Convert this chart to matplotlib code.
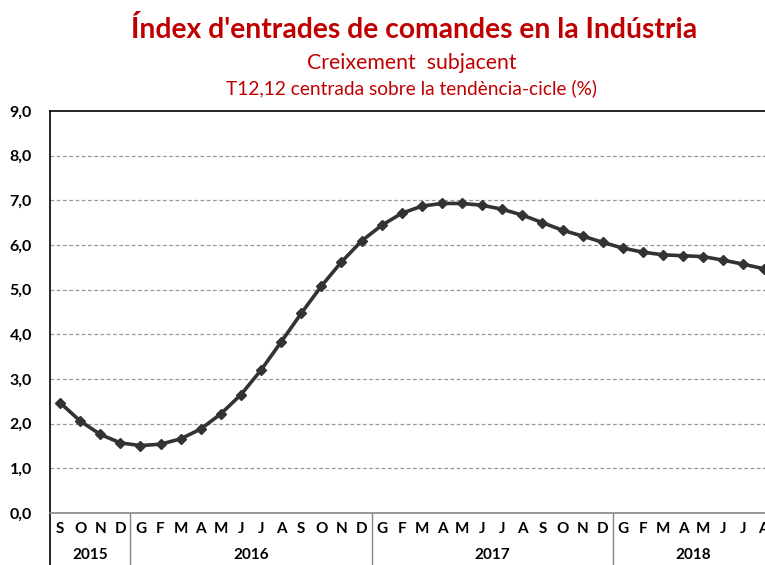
import matplotlib
matplotlib.use("Agg")
import matplotlib.pyplot as plt
import matplotlib.transforms as mtransforms

# ---- data ----
months = ["S", "O", "N", "D",
          "G", "F", "M", "A", "M", "J", "J", "A", "S", "O", "N", "D",
          "G", "F", "M", "A", "M", "J", "J", "A", "S", "O", "N", "D",
          "G", "F", "M", "A", "M", "J", "J", "A"]
years = ["2015", "2016", "2017", "2018"]
year_counts = [4, 12, 12, 8]
values = [2.47, 2.06, 1.76, 1.57,
          1.51, 1.54, 1.66, 1.88, 2.22, 2.65, 3.20, 3.83, 4.47, 5.08, 5.62, 6.09,
          6.44, 6.71, 6.87, 6.93, 6.93, 6.89, 6.80, 6.67, 6.50, 6.33, 6.20, 6.06,
          5.93, 5.84, 5.78, 5.76, 5.74, 5.66, 5.57, 5.47]
yticks = [0, 1, 2, 3, 4, 5, 6, 7, 8, 9]

title = "Índex d'entrades de comandes en la Indústria"
subtitle1 = "Creixement  subjacent"
subtitle2 = "T12,12 centrada sobre la tendència-cicle (%)"

plt.rcParams['font.family'] = ['Lato', 'DejaVu Sans']
red = "#C00000"

W, H = 765, 565
fig = plt.figure(figsize=(W / 100, H / 100), dpi=100)
left_px, bottom_px, top_px = 50, 513, 111
n = len(months)
step = 20.1
ax = fig.add_axes([left_px / W, 1 - bottom_px / H, n * step / W, (bottom_px - top_px) / H])

x = list(range(n))
ax.plot(x, values, color="#333333", lw=2.6, marker="D", ms=5, mfc="#333333", mec="#333333",
        zorder=3, clip_on=False)

ax.set_xlim(-0.5, n - 0.5)
ax.set_ylim(0, 9)
ax.set_yticks(yticks)
ax.set_yticklabels([f"{v:.1f}".replace(".", ",") for v in yticks], fontsize=11.5, fontweight="bold")
ax.tick_params(axis="y", length=0, pad=13)
ax.set_xticks([])
for v in yticks[1:-1]:
    ax.axhline(v, color="#999999", lw=0.9, ls=(0, (3, 2)), zorder=1)

ax.spines["right"].set_visible(False)
ax.spines["top"].set_color("black")
ax.spines["top"].set_linewidth(1.2)
ax.spines["left"].set_color("black")
ax.spines["left"].set_linewidth(1.2)
ax.spines["bottom"].set_color("#888888")
ax.spines["bottom"].set_linewidth(1.2)

trans = mtransforms.blended_transform_factory(ax.transData, ax.transAxes)
ah = (bottom_px - top_px)
# month labels
for i, m in enumerate(months):
    ax.text(i, -16 / ah, m, transform=trans, ha="center", va="center",
            fontsize=11, fontweight="bold", color="black")
# year labels and separators
start = 0
ax.plot([-0.5, -0.5], [0, -60 / ah], transform=trans, color="black", lw=1.2, clip_on=False)
for yr, c in zip(years, year_counts):
    mid = start + (c - 1) / 2
    ax.text(mid, -42 / ah, yr, transform=trans, ha="center", va="center",
            fontsize=11, fontweight="bold", color="black")
    start += c
    if start < n:
        ax.plot([start - 0.5, start - 0.5], [0, -60 / ah], transform=trans,
                color="#888888", lw=1.0, clip_on=False)

fig.text(414 / W, 1 - 29 / H, title, ha="center", va="center", fontsize=20.3,
         fontweight="bold", color=red)
fig.text(412 / W, 1 - 63 / H, subtitle1, ha="center", va="center", fontsize=15.3, color=red)
fig.text(411 / W, 1 - 88 / H, subtitle2, ha="center", va="center", fontsize=13.8, color=red)

fig.savefig("out.png", dpi=100)
